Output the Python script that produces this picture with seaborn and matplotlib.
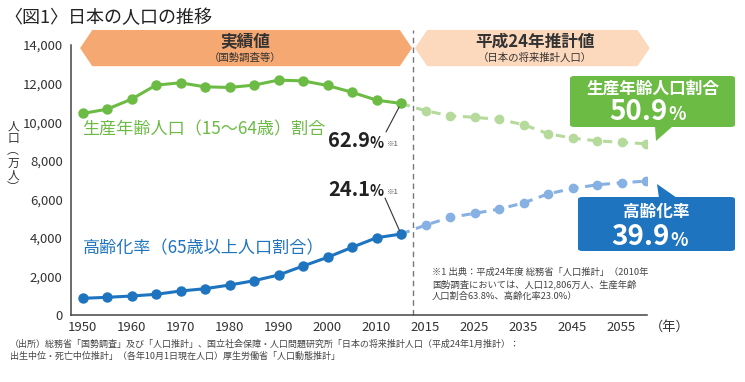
import matplotlib
matplotlib.use("Agg")
import matplotlib.pyplot as plt
from matplotlib.patches import Polygon, FancyBboxPatch
import seaborn as sns

# values in the chart's own y units
years_actual = [1950, 1955, 1960, 1965, 1970, 1975, 1980, 1985, 1990, 1995,
                2000, 2005, 2010, 2013]
working_actual = [10450, 10670, 11190, 11920, 12040, 11830, 11800, 11920,
                  12180, 12140, 11900, 11550, 11140, 10970]
aged_actual = [865, 917, 984, 1073, 1244, 1363, 1554, 1777, 2073, 2539,
               2990, 3508, 4005, 4197]

years_proj = [2015, 2020, 2025, 2030, 2035, 2040, 2045, 2050, 2055, 2060]
working_proj = [10590, 10330, 10250, 10140, 9870, 9400, 9170, 9030, 8950, 8880]
aged_proj = [4660, 5060, 5270, 5490, 5810, 6280, 6560, 6750, 6860, 6940]

tick_years = [1950, 1960, 1970, 1980, 1990, 2000, 2010,
              2015, 2025, 2035, 2045, 2055]
y_ticks = [0, 2000, 4000, 6000, 8000, 10000, 12000, 14000]

GREEN = '#6cbb45'
GREEN_L = '#b5da9c'
BLUE = '#1f74bf'
BLUE_L = '#86b1e2'
ORANGE = '#f5a872'
PEACH = '#fcd8bc'
DARK = '#333333'

W, H = 745, 382

sns.set_style("white")
plt.rcParams['font.family'] = ['Noto Sans CJK JP', 'DejaVu Sans']


def fx(px):
    return px / W


def fy(py):
    return 1 - py / H


# the x axis is categorical: every year gets the same slot
all_years = years_actual + years_proj
pos = {y: i for i, y in enumerate(all_years)}
x_act = [pos[y] for y in years_actual]
x_proj = [pos[years_actual[-1]]] + [pos[y] for y in years_proj]

fig = plt.figure(figsize=(W / 100, H / 100), dpi=100)
ax = fig.add_axes([fx(71), fy(315), fx(647) - fx(71), fy(45) - fy(315)])

# projections (light, dashed) first, actual values on top
sns.lineplot(x=x_proj, y=[working_actual[-1]] + working_proj, ax=ax,
             color=GREEN_L, linewidth=2.2, linestyle=(0, (3, 2.2)),
             marker='o', markersize=7, markeredgewidth=0)
sns.lineplot(x=x_proj, y=[aged_actual[-1]] + aged_proj, ax=ax,
             color=BLUE_L, linewidth=2.2, linestyle=(0, (3, 2.2)),
             marker='o', markersize=7, markeredgewidth=0)
sns.lineplot(x=x_act, y=working_actual, ax=ax, color=GREEN, linewidth=2.2,
             marker='o', markersize=7.5, markeredgewidth=0)
sns.lineplot(x=x_act, y=aged_actual, ax=ax, color=BLUE, linewidth=2.2,
             marker='o', markersize=7.5, markeredgewidth=0)

ax.set_xlim(-0.47, 23.04)
ax.set_ylim(0, 14000)
ax.set_yticks(y_ticks)
ax.set_yticklabels([f'{v:,}' for v in y_ticks], fontsize=9.5, color=DARK)
ax.set_xticks([pos[y] for y in tick_years])
ax.set_xticklabels([str(y) for y in tick_years], fontsize=9.5, color=DARK)
ax.set_xticks([i + 0.5 for i in range(23)], minor=True)
ax.tick_params(axis='x', which='major', length=0, pad=4)
ax.tick_params(axis='x', which='minor', direction='in', length=4,
               width=1, color='#444444')
ax.tick_params(axis='y', direction='out', length=4, width=1,
               color='#444444', pad=2)
for s in ['top', 'right']:
    ax.spines[s].set_visible(False)
for s in ['left', 'bottom']:
    ax.spines[s].set_color('#444444')
    ax.spines[s].set_linewidth(1.1)
ax.set_ylabel('')
ax.set_xlabel('')

# boundary between actual and projected values
split = (pos[years_actual[-1]] + pos[years_proj[0]]) / 2
ax.plot([split, split], [0, 14800], color='#777777', linewidth=1,
        linestyle=(0, (4, 3)), clip_on=False, zorder=1)

# banners
top, mid, bot = 14780, 13840, 12900
ax.add_patch(Polygon([(-0.1, mid), (0.4, top), (12.95, top), (13.45, mid),
                      (12.95, bot), (0.4, bot)], closed=True,
                     facecolor=ORANGE, edgecolor='none', clip_on=False))
ax.add_patch(Polygon([(13.57, mid), (14.07, top), (22.65, top), (23.15, mid),
                      (22.65, bot), (14.07, bot)], closed=True,
                     facecolor=PEACH, edgecolor='none', clip_on=False))
fig.text(fx(245), fy(42), '実績値', ha='center', va='center',
         fontsize=12, fontweight='bold', color=DARK)
fig.text(fx(245), fy(58), '（国勢調査等）', ha='center', va='center',
         fontsize=7.5, color=DARK)
fig.text(fx(535), fy(42), '平成24年推計値', ha='center', va='center',
         fontsize=12, fontweight='bold', color=DARK)
fig.text(fx(535), fy(58), '（日本の将来推計人口）', ha='center', va='center',
         fontsize=7.5, color=DARK)

# series labels
fig.text(fx(82), fy(129), '生産年齢人口（15〜64歳）割合', ha='left',
         va='center', fontsize=12.3, color=GREEN)
fig.text(fx(83), fy(248), '高齢化率（65歳以上人口割合）', ha='left',
         va='center', fontsize=12.3, color=BLUE)

# values at 2013 with leader lines
ax.annotate('', xy=(x_act[-1], working_actual[-1]),
            xytext=(fx(386), fy(132)), textcoords='figure fraction',
            arrowprops=dict(arrowstyle='-', color='#333333', lw=0.8,
                            shrinkA=0, shrinkB=3))
ax.annotate('', xy=(x_act[-1], aged_actual[-1]),
            xytext=(fx(385), fy(198)), textcoords='figure fraction',
            arrowprops=dict(arrowstyle='-', color='#333333', lw=0.8,
                            shrinkA=0, shrinkB=3))
for txt, py in [('62.9', 141), ('24.1', 189)]:
    fig.text(fx(370), fy(py), txt, ha='right', va='center', fontsize=14.5,
             fontweight='bold', color='#222222')
    fig.text(fx(370), fy(py + 2), '%', ha='left', va='center', fontsize=10.5,
             fontweight='bold', color='#222222')
    fig.text(fx(387), fy(py + 3), '※1', ha='left', va='center',
             fontsize=5.5, color='#555555')

# callouts for 2060
fig.add_artist(FancyBboxPatch((fx(570), fy(127)), fx(735) - fx(570),
                              fy(76) - fy(127),
                              boxstyle='round,pad=0,rounding_size=0.006',
                              transform=fig.transFigure, facecolor=GREEN,
                              edgecolor='none'))
fig.add_artist(Polygon([(fx(655), fy(126)), (fx(673), fy(126)),
                        (fx(656), fy(141))], closed=True,
                       transform=fig.transFigure, facecolor=GREEN,
                       edgecolor='none'))
fig.text(fx(653), fy(89), '生産年齢人口割合', ha='center', va='center',
         fontsize=12, fontweight='bold', color='white')
fig.text(fx(668), fy(112), '50.9', ha='right', va='center', fontsize=20,
         fontweight='bold', color='white')
fig.text(fx(668), fy(115), '%', ha='left', va='center', fontsize=13,
         fontweight='bold', color='white')

fig.add_artist(FancyBboxPatch((fx(578), fy(251)), fx(735) - fx(578),
                              fy(197) - fy(251),
                              boxstyle='round,pad=0,rounding_size=0.006',
                              transform=fig.transFigure, facecolor=BLUE,
                              edgecolor='none'))
fig.add_artist(Polygon([(fx(659), fy(198)), (fx(677), fy(198)),
                        (fx(657), fy(184))], closed=True,
                       transform=fig.transFigure, facecolor=BLUE,
                       edgecolor='none'))
fig.text(fx(656), fy(212), '高齢化率', ha='center', va='center',
         fontsize=12, fontweight='bold', color='white')
fig.text(fx(670), fy(237), '39.9', ha='right', va='center', fontsize=20,
         fontweight='bold', color='white')
fig.text(fx(670), fy(240), '%', ha='left', va='center', fontsize=13,
         fontweight='bold', color='white')

# footnote inside the plot
fig.text(fx(432), fy(268),
         '※1 出典：平成24年度 総務省「人口推計」（2010年\n'
         '国勢調査においては、人口12,806万人、生産年齢\n'
         '人口割合63.8%、高齢化率23.0%）',
         ha='left', va='top', fontsize=6.7, color='#444444', linespacing=1.35)

# year unit after the last tick label
fig.text(fx(650), fy(327), '（年）', ha='left', va='center', fontsize=9.5,
         color=DARK)

# y label written vertically
fig.text(fx(13), fy(157), '人\n口\n︵\n万\n人\n︶', ha='center', va='center',
         fontsize=8.5, color=DARK, linespacing=0.92)

# title and source
fig.text(fx(4), fy(18), '〈図1〉日本の人口の推移', ha='left', va='center',
         fontsize=13, color='#222222')
fig.text(fx(10), fy(350),
         '（出所）総務省「国勢調査」及び「人口推計」、国立社会保障・人口問題研究所'
         '「日本の将来推計人口（平成24年1月推計）：\n'
         '出生中位・死亡中位推計」（各年10月1日現在人口）厚生労働省「人口動態推計」',
         ha='left', va='center', fontsize=6.5, color='#444444',
         linespacing=1.35)

fig.savefig('out.png', dpi=100)
